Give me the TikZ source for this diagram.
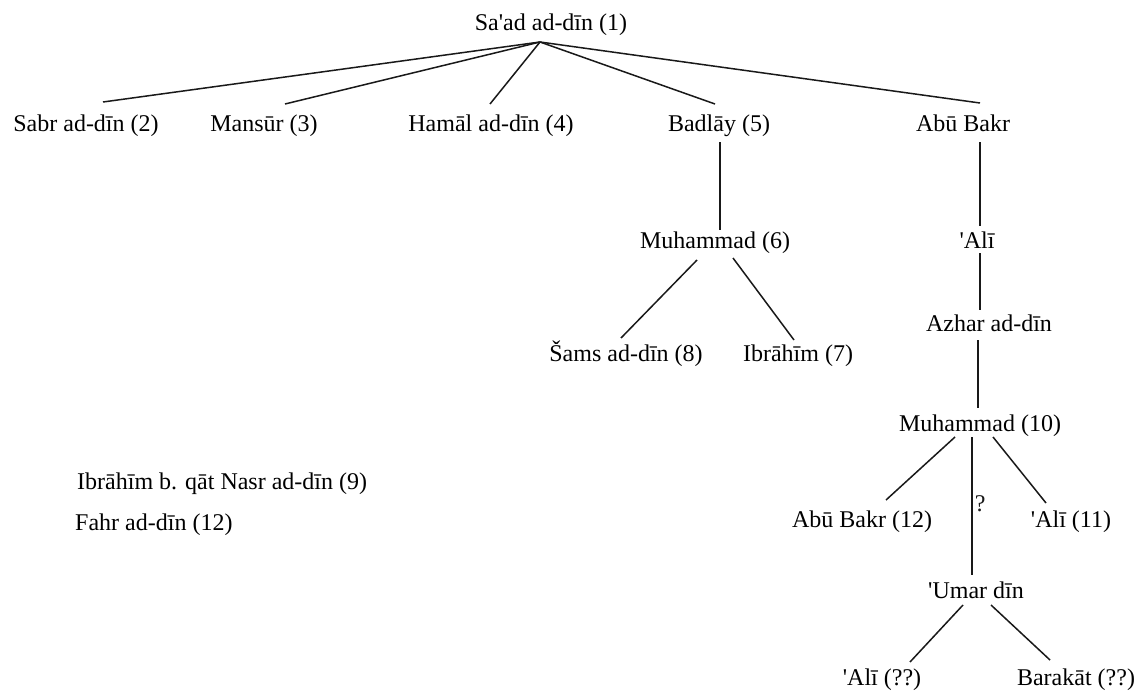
\documentclass[tikz,border=0pt]{standalone}
\usepackage{fontspec}
\setmainfont{Liberation Serif}[Ligatures=TeXOff]
\begin{document}
\begin{tikzpicture}[x=1pt,y=-1pt,
  nm/.style={inner sep=0pt,anchor=base,font=\fontsize{24}{28}\selectfont},
  nl/.style={inner sep=0pt,anchor=base west,font=\fontsize{24}{28}\selectfont},
  edge/.style={line width=1.5pt,black!90}]
\useasboundingbox[fill=white] (0,0) rectangle (1142,691);
\node[nm] (root) at (551,30) {Sa'ad ad-dīn (1)};
\node[nm] (sabr) at (86,131) {Sabr ad-dīn (2)};
\node[nm] (mansur) at (264,131) {Mansūr (3)};
\node[nm] (hamal) at (491,131) {Hamāl ad-dīn (4)};
\node[nm] (badlay) at (719,131) {Badlāy (5)};
\node[nm] (abubakr) at (963,131) {Abū Bakr};
\node[nm] (muhsix) at (715,248) {Muhammad (6)};
\node[nm] (ali) at (977,248) {'Alī};
\node[nm] (azhar) at (989,331) {Azhar ad-dīn};
\node[nm] (sams) at (626,361) {Šams ad-dīn (8)};
\node[nm] (ibrseven) at (798,361) {Ibrāhīm (7)};
\node[nm] (muhten) at (980,431) {Muhammad (10)};
\node[nl] (ibrnine) at (77,489) {Ibrāhīm b. qāt Nasr ad-dīn (9)};
\node[nl] (fahr) at (75,530) {Fahr ad-dīn (12)};
\node[nm] (abtwelve) at (862,527) {Abū Bakr (12)};
\node[nm] (alieleven) at (1071,527) {'Alī (11)};
\node[nm] (umar) at (976,598) {'Umar dīn};
\node[nm] (aliqq) at (882,685) {'Alī (??)};
\node[nm] (barakat) at (1076,685) {Barakāt (??)};

\draw[edge] ([shift={(-11,12)}]root.base) -- ([shift={(17,-29)}]sabr.base);
\draw[edge] ([shift={(-11,12)}]root.base) -- ([shift={(21,-27)}]mansur.base);
\draw[edge] ([shift={(-11,12)}]root.base) -- ([shift={(-1,-27)}]hamal.base);
\draw[edge] ([shift={(-11,12)}]root.base) -- ([shift={(-4,-27)}]badlay.base);
\draw[edge] ([shift={(-11,12)}]root.base) -- ([shift={(17,-28)}]abubakr.base);
\draw[edge] ([shift={(1,11)}]badlay.base) -- ([shift={(5,-18)}]muhsix.base);
\draw[edge] ([shift={(17,11)}]abubakr.base) -- ([shift={(3,-22)}]ali.base);
\draw[edge] ([shift={(3,5)}]ali.base) -- ([shift={(-9,-21)}]azhar.base);
\draw[edge] ([shift={(-11,9)}]azhar.base) -- ([shift={(-2,-23)}]muhten.base);
\draw[edge] ([shift={(-18,12)}]muhsix.base) -- ([shift={(-5,-23)}]sams.base);
\draw[edge] ([shift={(18,10)}]muhsix.base) -- ([shift={(-4,-21)}]ibrseven.base);
\draw[edge] ([shift={(-25,6)}]muhten.base) -- ([shift={(24,-27)}]abtwelve.base);
\draw[edge] ([shift={(13,6)}]muhten.base) -- ([shift={(-25,-24)}]alieleven.base);
\draw[edge] ([shift={(-8,6)}]muhten.base) -- node[pos=0.48,right=2pt,font=\fontsize{24}{28}\selectfont,inner sep=0pt] (q) {?} ([shift={(-4,-23)}]umar.base);
\draw[edge] ([shift={(-13,7)}]umar.base) -- ([shift={(28,-23)}]aliqq.base);
\draw[edge] ([shift={(15,7)}]umar.base) -- ([shift={(-26,-25)}]barakat.base);
\end{tikzpicture}
\end{document}
